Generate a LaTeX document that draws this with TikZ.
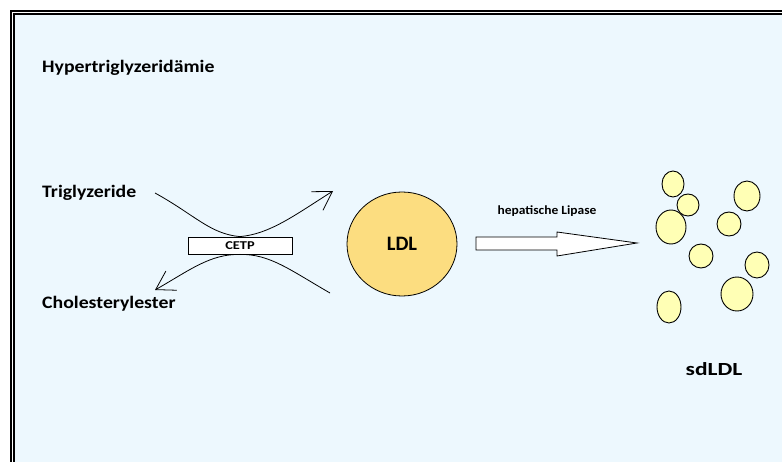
\documentclass[tikz,border=0pt]{standalone}
\usepackage{fontspec}
\setmainfont{Carlito}
\usetikzlibrary{arrows.meta}
\usetikzlibrary{shapes.geometric}
\usetikzlibrary{positioning}
\definecolor{bgblue}{RGB}{237,248,254}
\definecolor{ldlgold}{RGB}{252,221,128}
\definecolor{sdyellow}{RGB}{255,255,181}
\tikzset{>={Straight Barb[length=18pt,width=22pt]}}
\newcommand{\widefont}[2]{\bfseries\fontsize{#1}{#1}\selectfont\addfontfeature{FakeStretch=#2}}

\begin{document}
\begin{tikzpicture}[x=1pt,y=-1pt,
  label/.style={font=\widefont{17.5}{1.13},inner sep=0pt},
  small/.style={font=\widefont{12.5}{1.08},inner sep=0pt},
  flow/.style={line width=0.8pt},
  particle/.style={draw,fill=sdyellow,line width=0.9pt}]

\useasboundingbox (0,0) rectangle (782,462);
\fill[white] (0,0) rectangle (782,462);
\fill[bgblue] (14,14) rectangle (782,462);
\draw[line width=2pt] (11,462) -- (11,11) -- (782,11);
\draw[line width=1.5pt] (14,462) -- (14,14) -- (782,14);

\node[label,anchor=base west] (title) at (42,73) {Hypertriglyzeridämie};
\node[label,anchor=base west] (tg) at (42,198) {Triglyzeride};
\node[label,anchor=base west] (ce) at (42,309) {Cholesterylester};

\node (cetp) [draw,fill=white,line width=0.8pt,minimum width=104pt,minimum height=17pt,inner sep=0pt,
  font=\widefont{12}{1.2}] at (240,245.5) {CETP};
\coordinate (tgstart) at (155,193);
\coordinate (tgend) at (333,191);
\coordinate (cestart) at (330,293);
\coordinate (ceend) at (155,290);

\draw[flow,->] (tgstart) .. controls (195,215) and (210,234) .. (cetp.north)
  .. controls (270,234) and (295,215) .. (tgend);
\draw[flow,->] (cestart) .. controls (290,270) and (270,254) .. (cetp.south)
  .. controls (210,254) and (190,270) .. (ceend);

\node (ldl) [ellipse,draw,fill=ldlgold,line width=0.8pt,minimum width=110pt,minimum height=104pt,
  font=\widefont{20.5}{1.0}] at (402,244) {LDL};

\coordinate (hlstart) at (476,243.5);
\draw[fill=white,line width=0.8pt] (hlstart) ++(0,-6.5) -- (557,237) -- (557,232) -- (637,243)
  -- (557,256) -- (557,250) -- (476,250) -- cycle;
\node[small,anchor=base] (hl) at (547,215) {hepatische Lipase};

\draw[particle] (673,184) ellipse [x radius=11,y radius=13];
\draw[particle] (688,205) ellipse [x radius=11,y radius=11];
\draw[particle] (671,227) ellipse [x radius=15,y radius=17];
\draw[particle] (747,196) ellipse [x radius=13,y radius=15];
\draw[particle] (729,224) ellipse [x radius=12,y radius=12];
\draw[particle] (701,256) ellipse [x radius=12,y radius=12];
\draw[particle] (757,265) ellipse [x radius=12,y radius=13];
\draw[particle] (737,294) ellipse [x radius=16,y radius=17];
\draw[particle] (669,307) ellipse [x radius=12,y radius=16];

\node[inner sep=0pt,font=\widefont{18.5}{1.27},anchor=base] (sdldl) at (714,376) {sdLDL};

\end{tikzpicture}
\end{document}
